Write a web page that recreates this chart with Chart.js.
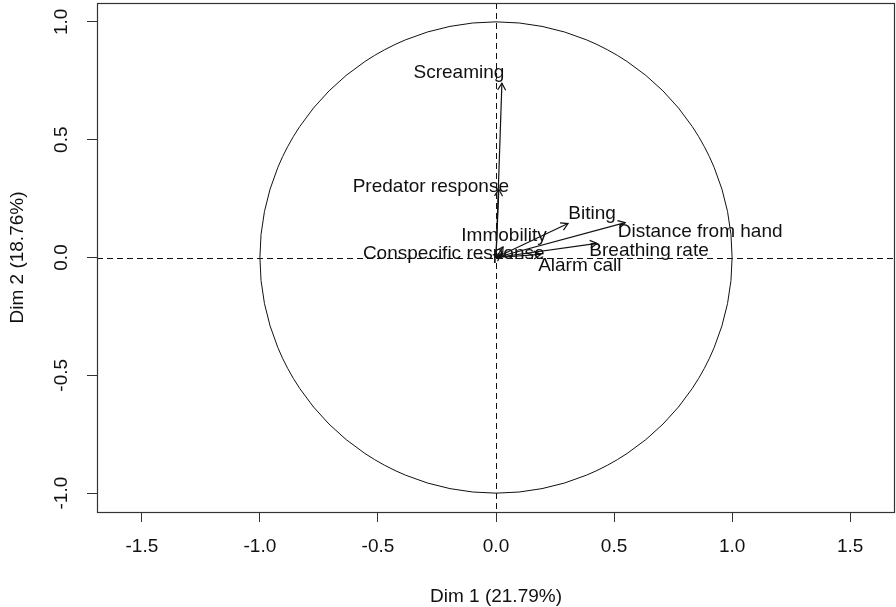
<!DOCTYPE html>
<html>
<head>
<meta charset="utf-8">
<script src="https://cdn.jsdelivr.net/npm/chart.js@4.4.1/dist/chart.umd.min.js"></script>
<style>
  html, body { margin: 0; padding: 0; background: #ffffff; }
  #wrap { width: 896px; height: 607px; }
</style>
</head>
<body>
<div id="wrap"><canvas id="c" width="896" height="607"></canvas></div>
<script>
// Variables factor map: coordinates of each variable on the first two dimensions
const variables = ['Screaming', 'Predator response', 'Immobility', 'Conspecific response',
                   'Biting', 'Distance from hand', 'Breathing rate', 'Alarm call'];
const dim1 = [0.025, 0.012, 0.030, 0.020, 0.305, 0.547, 0.428, 0.190];
const dim2 = [0.740, 0.290, 0.045, 0.015, 0.144, 0.148, 0.060, 0.013];

const xTicks = [-1.5, -1.0, -0.5, 0.0, 0.5, 1.0, 1.5];
const yTicks = [-1.0, -0.5, 0.0, 0.5, 1.0];
const xTitle = 'Dim 1 (21.79%)';
const yTitle = 'Dim 2 (18.76%)';

// label placement relative to each arrow tip (pixels)
const labelShift = [[-43, -10], [-68, -2], [1, -11], [-47, 0], [24, -10], [75, 9], [52, 7], [39, 11]];

const FONT = '19px "Liberation Sans", Arial, sans-serif';
const INK = '#111111';
const FRAME = '#333333';

const datasets = variables.map((name, i) => ({
  label: name,
  data: [{ x: 0, y: 0 }, { x: dim1[i], y: dim2[i] }],
  showLine: true,
  borderColor: INK,
  borderWidth: 1.2,
  pointRadius: 0,
  fill: false
}));

const factorMap = {
  id: 'factorMap',
  beforeDatasetsDraw(chart) {
    const { ctx, chartArea: a, scales: { x, y } } = chart;
    const cx = x.getPixelForValue(0), cy = y.getPixelForValue(0);
    ctx.save();
    // correlation circle
    ctx.strokeStyle = INK;
    ctx.lineWidth = 1;
    ctx.beginPath();
    ctx.ellipse(cx, cy, x.getPixelForValue(1) - cx, cy - y.getPixelForValue(1), 0, 0, Math.PI * 2);
    ctx.stroke();
    // dashed reference axes
    ctx.setLineDash([6, 4]);
    ctx.beginPath();
    ctx.moveTo(a.left, Math.round(cy) + 0.5); ctx.lineTo(a.right, Math.round(cy) + 0.5);
    ctx.moveTo(Math.round(cx) + 0.5, a.top); ctx.lineTo(Math.round(cx) + 0.5, a.bottom);
    ctx.stroke();
    ctx.restore();
  },
  afterDatasetsDraw(chart) {
    const { ctx, chartArea: a, scales: { x, y } } = chart;
    const cx = x.getPixelForValue(0), cy = y.getPixelForValue(0);
    ctx.save();
    // arrow heads
    ctx.strokeStyle = INK;
    ctx.lineWidth = 1.2;
    variables.forEach((name, i) => {
      const tx = x.getPixelForValue(dim1[i]), ty = y.getPixelForValue(dim2[i]);
      const ang = Math.atan2(ty - cy, tx - cx);
      const len = 8, spread = Math.PI / 6;
      ctx.beginPath();
      ctx.moveTo(tx - len * Math.cos(ang - spread), ty - len * Math.sin(ang - spread));
      ctx.lineTo(tx, ty);
      ctx.lineTo(tx - len * Math.cos(ang + spread), ty - len * Math.sin(ang + spread));
      ctx.stroke();
    });
    // variable names
    ctx.font = FONT;
    ctx.fillStyle = INK;
    ctx.textAlign = 'center';
    ctx.textBaseline = 'middle';
    variables.forEach((name, i) => {
      const tx = x.getPixelForValue(dim1[i]), ty = y.getPixelForValue(dim2[i]);
      ctx.fillText(name, tx + labelShift[i][0], ty + labelShift[i][1]);
    });
    // frame
    ctx.strokeStyle = FRAME;
    ctx.lineWidth = 1.2;
    ctx.strokeRect(a.left + 0.5, a.top + 0.5, a.right - a.left - 1, a.bottom - a.top);
    // tick labels
    x.ticks.forEach(t => {
      ctx.fillText(t.value.toFixed(1), x.getPixelForValue(t.value), a.bottom + 35);
    });
    ctx.fillText(xTitle, (a.left + a.right) / 2, a.bottom + 85);
    y.ticks.forEach(t => {
      ctx.save();
      ctx.translate(a.left - 35, y.getPixelForValue(t.value));
      ctx.rotate(-Math.PI / 2);
      ctx.fillText(t.value.toFixed(1), 0, 0);
      ctx.restore();
    });
    ctx.save();
    ctx.translate(a.left - 79, (a.top + a.bottom) / 2);
    ctx.rotate(-Math.PI / 2);
    ctx.fillText(yTitle, 0, 0);
    ctx.restore();
    ctx.restore();
  }
};

new Chart(document.getElementById('c'), {
  type: 'scatter',
  data: { datasets },
  options: {
    responsive: false,
    animation: false,
    events: [],
    layout: { padding: { top: 3, right: 1, left: 0, bottom: 0 } },
    plugins: { legend: { display: false }, tooltip: { enabled: false } },
    scales: {
      x: {
        type: 'linear',
        min: -1.69, max: 1.69,
        afterBuildTicks: s => { s.ticks = xTicks.map(v => ({ value: v })); },
        afterFit: s => { s.height = 95; },
        grid: { display: true, drawOnChartArea: false, drawTicks: true, tickLength: 10, color: FRAME, lineWidth: 1 },
        border: { display: false },
        ticks: { display: false }
      },
      y: {
        type: 'linear',
        min: -1.08, max: 1.08,
        afterBuildTicks: s => { s.ticks = yTicks.map(v => ({ value: v })); },
        afterFit: s => { s.width = 97; },
        grid: { display: true, drawOnChartArea: false, drawTicks: true, tickLength: 10, color: FRAME, lineWidth: 1 },
        border: { display: false },
        ticks: { display: false }
      }
    }
  },
  plugins: [factorMap]
});
</script>
</body>
</html>
